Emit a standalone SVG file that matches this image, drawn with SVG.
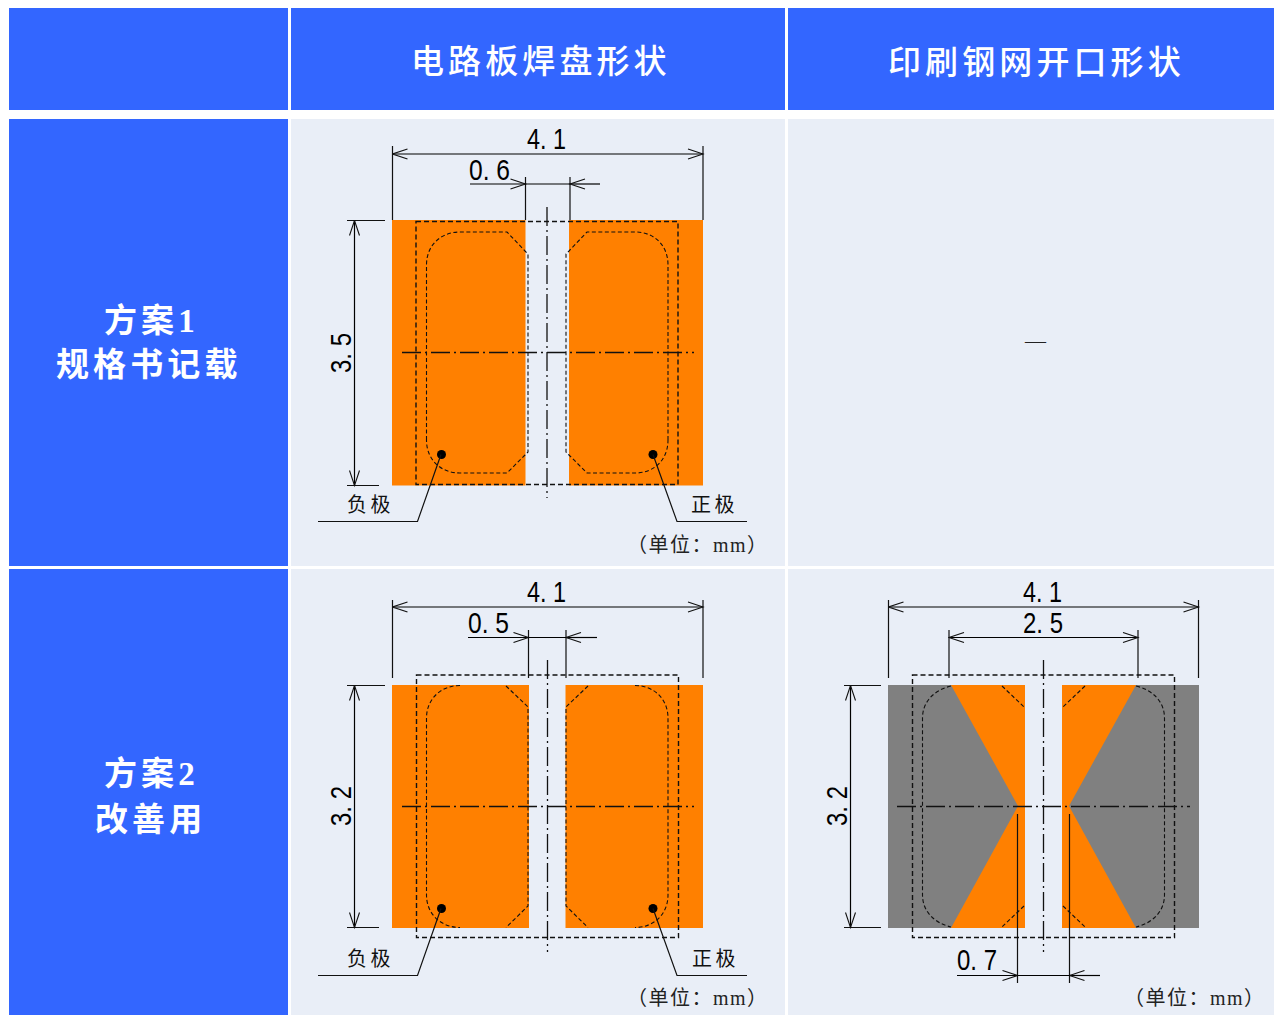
<svg xmlns="http://www.w3.org/2000/svg" width="1274" height="1015" viewBox="0 0 1274 1015">
<style>
.hd{fill:#3366ff}
.bg{fill:#e9eef7}
.or{fill:#ff8000}
.gy{fill:#808080}
.tw{fill:#fff;font-family:"Liberation Serif","Noto Sans CJK SC",serif;font-size:33px;letter-spacing:4.1px;font-weight:500}
.tr{font-weight:700}
.d{fill:#000;font-family:"Liberation Sans","Noto Sans CJK JP",sans-serif;font-size:30px}
.l{fill:#111;font-family:"Noto Sans CJK SC",sans-serif;font-size:20px;letter-spacing:3.500px}
.u{fill:#222;font-family:"Liberation Serif","Noto Sans CJK SC",serif;font-size:20px;letter-spacing:1.500px}
.s{fill:none;stroke:#000;stroke-width:1.200}
.a{fill:none;stroke:#111;stroke-width:1.200}
.dr{fill:none;stroke:#111;stroke-width:1.400;stroke-dasharray:5 3}
.di{fill:none;stroke:#111;stroke-width:1.100;stroke-dasharray:4 2.500}
.c{fill:none;stroke:#111;stroke-width:1.300;stroke-dasharray:19 4 2 4}
</style>
<defs>
<marker id="ae" markerUnits="userSpaceOnUse" markerWidth="18" markerHeight="12" refX="16" refY="6" orient="auto"><path d="M1 1L16 6L1 11" fill="none" stroke="#111" stroke-width="1.100"/></marker>
<marker id="as" markerUnits="userSpaceOnUse" markerWidth="18" markerHeight="12" refX="1" refY="6" orient="auto"><path d="M16 1L1 6L16 11" fill="none" stroke="#111" stroke-width="1.100"/></marker>
</defs>
<rect width="1274" height="1015" fill="#fff"/>
<g id="cell-header-blank"><rect class="hd" x="9" y="8" width="279" height="102"/></g>
<g id="cell-header-pad"><rect class="hd" x="291" y="8" width="494" height="102"/><text class="tw" x="411" y="73">电路板焊盘形状</text></g>
<g id="cell-header-stencil"><rect class="hd" x="788" y="8" width="486" height="102"/><text class="tw" x="888" y="74">印刷钢网开口形状</text></g>
<g id="cell-row1-title"><rect class="hd" x="9" y="119" width="279" height="447"/><text class="tw tr" x="104" y="332">方案1</text><text class="tw tr" x="56" y="376">规格书记载</text></g>
<g id="cell-row2-title"><rect class="hd" x="9" y="569" width="279" height="446"/><text class="tw tr" x="104" y="785">方案2</text><text class="tw tr" x="95" y="831">改善用</text></g>
<g id="cell-row1-pad"><rect class="bg" x="291" y="119" width="494" height="447"/>
<rect class="or" x="392" y="220" width="133.500" height="265.500"/><rect class="or" x="569" y="220" width="134" height="265.500"/>
<rect class="dr" x="416" y="221.500" width="262" height="263"/>
<path class="di" d="M426.500 440V265C426.500 245 441 232 460 232H507L525 251L528 254V452L525 455L507 473H460C441 473 426.500 460 426.500 440"/>
<path class="di" d="M668 440V265C668 245 654 232 635 232H587L569 251L566 254V452L569 455L587 473H635C654 473 668 460 668 440"/>
<line class="c" x1="547" y1="207" x2="547" y2="498"/><line class="c" x1="402" y1="352.500" x2="694" y2="352.500"/>
<circle cx="441.500" cy="454.500" r="4.500"/><circle cx="653" cy="454.500" r="4.500"/>
<text class="l" x="347" y="512">负极</text><text class="l" x="691" y="512">正极</text>
<text class="u" x="627" y="552">（单位：mm）</text>
<text class="d" x="527" y="149" textLength="39" lengthAdjust="spacingAndGlyphs">4. 1</text>
<text class="d" x="469" y="180" textLength="41" lengthAdjust="spacingAndGlyphs">0. 6</text>
<text class="d" transform="translate(351 373) rotate(-90)" textLength="40" lengthAdjust="spacingAndGlyphs">3. 5</text>
</g>
<g id="cell-row1-stencil"><rect class="bg" x="788" y="119" width="486" height="447"/><text x="1025" y="348" style="font-family:'Liberation Serif',serif;font-size:21px" fill="#222">—</text></g>
<g id="cell-row2-pad"><rect class="bg" x="291" y="569" width="494" height="446"/>
<rect class="or" x="392" y="685" width="137" height="243"/><rect class="or" x="565.500" y="685" width="137.500" height="243"/>
<rect class="dr" x="416.500" y="675" width="262" height="262.500"/>
<path class="di" d="M460 685.500C441 685.500 426.500 699 426.500 718V895C426.500 914 441 927.500 460 927.500M506 686L528 707V906L506 927.500"/>
<path class="di" d="M635 685.500C654 685.500 668 699 668 718V895C668 914 654 927.500 635 927.500M588 686L566 707V906L588 927.500"/>
<line class="c" x1="547.500" y1="660" x2="547.500" y2="952"/><line class="c" x1="402" y1="806.500" x2="694" y2="806.500"/>
<circle cx="441.500" cy="908.500" r="4.500"/><circle cx="653" cy="908.500" r="4.500"/>
<text class="l" x="347" y="966">负极</text><text class="l" x="692" y="966">正极</text>
<text class="u" x="627" y="1005">（单位：mm）</text>
<text class="d" x="527" y="602" textLength="39" lengthAdjust="spacingAndGlyphs">4. 1</text>
<text class="d" x="468" y="633" textLength="41" lengthAdjust="spacingAndGlyphs">0. 5</text>
<text class="d" transform="translate(351 826) rotate(-90)" textLength="40" lengthAdjust="spacingAndGlyphs">3. 2</text>
</g>
<g id="cell-row2-stencil"><rect class="bg" x="788" y="569" width="486" height="446"/>
<rect class="or" x="951" y="685" width="74" height="243"/><rect class="or" x="1062" y="685" width="75" height="243"/>
<path class="gy" d="M888 685H951L1018 806L951 928H888Z"/><path class="gy" d="M1199 685H1136L1069 806L1136 928H1199Z"/>
<rect class="dr" x="912.500" y="675" width="262" height="262.500"/>
<path class="di" d="M951 686C934 690 922.500 702 922.500 718V895C922.500 911 934 923 951 927M1002 686L1024 707M1024 906L1002 927"/>
<path class="di" d="M1136 686C1153 690 1164.500 702 1164.500 718V895C1164.500 911 1153 923 1136 927M1085 686L1063 707M1063 906L1085 927"/>
<line class="c" x1="1043.500" y1="660" x2="1043.500" y2="952"/><line class="c" x1="897" y1="806.500" x2="1190" y2="806.500"/>
<text class="u" x="1124" y="1005">（单位：mm）</text>
<text class="d" x="1023" y="602" textLength="39" lengthAdjust="spacingAndGlyphs">4. 1</text>
<text class="d" x="1023" y="633" textLength="40" lengthAdjust="spacingAndGlyphs">2. 5</text>
<text class="d" x="957" y="970" textLength="40" lengthAdjust="spacingAndGlyphs">0. 7</text>
<text class="d" transform="translate(847 826) rotate(-90)" textLength="40" lengthAdjust="spacingAndGlyphs">3. 2</text>
</g>
<g id="connectors">
<path class="a" d="M392.500 146V220M703 146V220M525.500 177V220M570 177V220"/>
<line class="s" x1="392.500" y1="154" x2="703" y2="154" marker-start="url(#as)" marker-end="url(#ae)"/>
<line class="s" x1="470" y1="184" x2="525.500" y2="184" marker-end="url(#ae)"/>
<line class="s" x1="600" y1="184" x2="570" y2="184" marker-end="url(#ae)"/>
<line class="s" x1="525.500" y1="184" x2="570" y2="184"/>
<path class="a" d="M347 220.500H385M347 485.500H379"/>
<line class="s" x1="354.500" y1="220.500" x2="354.500" y2="485.500" marker-start="url(#as)" marker-end="url(#ae)"/>
<path class="a" d="M441 454.500L417.500 521.500H318M653 454.500L677 521.500H747"/>
<path class="a" d="M392.500 600V678M703 600V678M528.500 630V678M566 630V678"/>
<line class="s" x1="392.500" y1="607" x2="703" y2="607" marker-start="url(#as)" marker-end="url(#ae)"/>
<line class="s" x1="468" y1="637.500" x2="528.500" y2="637.500" marker-end="url(#ae)"/>
<line class="s" x1="597" y1="637.500" x2="566" y2="637.500" marker-end="url(#ae)"/>
<line class="s" x1="528.500" y1="637.500" x2="566" y2="637.500"/>
<path class="a" d="M347 685.500H385M347 927.500H379"/>
<line class="s" x1="354.500" y1="685.500" x2="354.500" y2="927.500" marker-start="url(#as)" marker-end="url(#ae)"/>
<path class="a" d="M441 908.500L417.500 975.500H318M653 908.500L677 975.500H747"/>
<path class="a" d="M888.500 600V678M1198.500 600V678M949 630V678M1138 630V678"/>
<line class="s" x1="888.500" y1="607" x2="1198.500" y2="607" marker-start="url(#as)" marker-end="url(#ae)"/>
<line class="s" x1="949" y1="637.500" x2="1138" y2="637.500" marker-start="url(#as)" marker-end="url(#ae)"/>
<path class="a" d="M844 685.500H881M844 927.500H881"/>
<line class="s" x1="850.500" y1="685.500" x2="850.500" y2="927.500" marker-start="url(#as)" marker-end="url(#ae)"/>
<path class="a" d="M1017.500 814V983M1069.500 814V983"/>
<line class="s" x1="957" y1="975.500" x2="1017.500" y2="975.500" marker-end="url(#ae)"/>
<line class="s" x1="1100" y1="975.500" x2="1069.500" y2="975.500" marker-end="url(#ae)"/>
<line class="s" x1="1017.500" y1="975.500" x2="1069.500" y2="975.500"/>
</g>
</svg>
